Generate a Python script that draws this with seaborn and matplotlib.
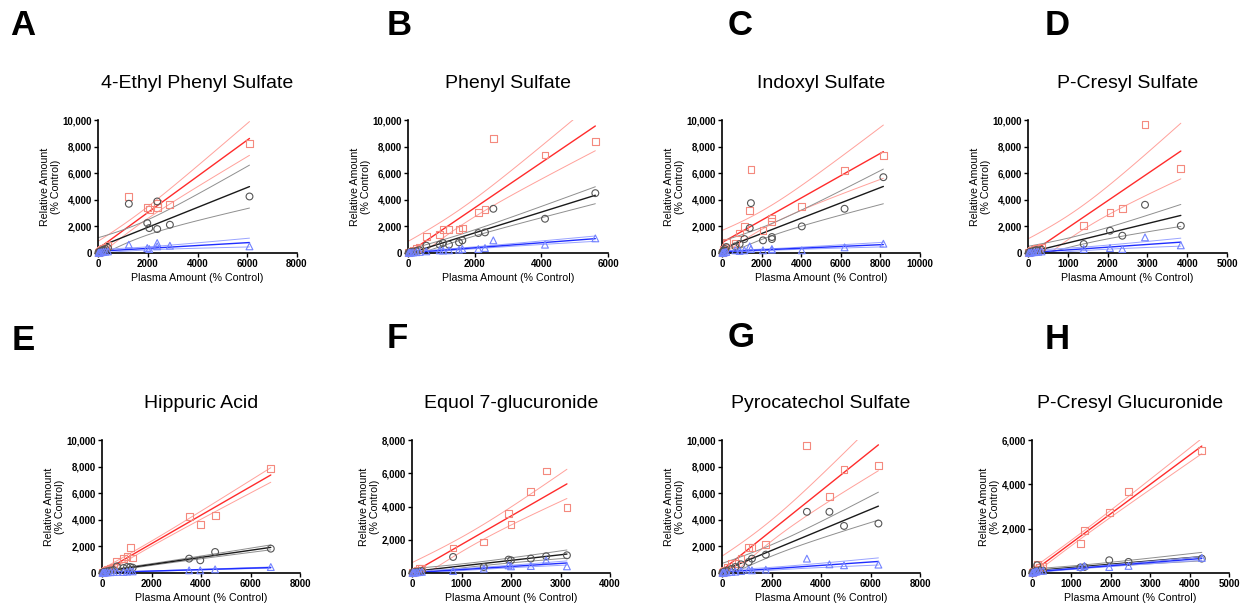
import numpy as np
import matplotlib
matplotlib.use('Agg')
import matplotlib.pyplot as plt
import seaborn as sns

# panel titles and letters
titles = ['4-Ethyl Phenyl Sulfate', 'Phenyl Sulfate', 'Indoxyl Sulfate', 'P-Cresyl Sulfate',
          'Hippuric Acid', 'Equol 7-glucuronide', 'Pyrocatechol Sulfate', 'P-Cresyl Glucuronide']
letters = ['A', 'B', 'C', 'D', 'E', 'F', 'G', 'H']

# plasma amount (x) and relative amounts for the three series (square / circle / triangle)
x_A = [20, 50, 90, 150, 220, 300, 400, 1240, 1980, 2060, 2380, 2380, 2890, 6090]
sq_A = [40, 90, 160, 250, 330, 420, 560, 4250, 3450, 3300, 3750, 3450, 3675, 8250]
ci_A = [30, 70, 120, 180, 250, 300, 380, 3700, 2250, 1875, 3875, 1800, 2125, 4250]
tri_A = [10, 20, 40, 60, 80, 100, 120, 625, 375, 300, 750, 500, 550, 500]

x_B = [20, 50, 90, 150, 250, 350, 550, 950, 1050, 1230, 1530, 1630, 2110, 2310, 2560, 4110, 5620]
sq_B = [40, 80, 150, 230, 330, 400, 1250, 1375, 1750, 1750, 1750, 1875, 3075, 3250, 8625, 7375, 8375]
ci_B = [20, 40, 70, 100, 150, 200, 550, 625, 750, 625, 800, 950, 1500, 1550, 3325, 2575, 4500]
tri_B = [10, 20, 30, 40, 60, 80, 125, 200, 180, 200, 250, 300, 300, 375, 950, 625, 1100]

x_C = [20, 50, 90, 150, 220, 670, 890, 1130, 1400, 1460, 2070, 2520, 2520, 4030, 6190, 8150]
sq_C = [60, 150, 250, 400, 800, 700, 1500, 2000, 3200, 6250, 1675, 2375, 2625, 3500, 6175, 7325]
ci_C = [40, 100, 180, 300, 450, 500, 675, 1050, 1875, 3750, 950, 1200, 1050, 2000, 3325, 5700]
tri_C = [10, 20, 40, 60, 80, 200, 150, 200, 500, 300, 200, 300, 250, 200, 425, 700]

x_D = [20, 50, 90, 150, 210, 260, 340, 1400, 2060, 2370, 2940, 3840]
sq_D = [50, 120, 200, 280, 375, 300, 450, 2075, 3050, 3325, 9675, 6325]
ci_D = [30, 60, 100, 160, 220, 180, 250, 675, 1675, 1300, 3625, 2050]
tri_D = [10, 20, 40, 60, 80, 90, 120, 300, 375, 300, 1175, 575]

x_E = [20, 50, 90, 150, 230, 340, 470, 600, 870, 1010, 1140, 1240, 3520, 3970, 4570, 6820]
sq_E = [30, 70, 120, 200, 280, 325, 450, 900, 1075, 1250, 1900, 1125, 4270, 3640, 4350, 7860]
ci_E = [20, 40, 70, 100, 130, 180, 220, 500, 375, 450, 450, 400, 1080, 955, 1580, 1830]
tri_E = [10, 20, 30, 40, 50, 60, 70, 80, 75, 100, 150, 120, 200, 200, 275, 450]

x_F = [10, 30, 60, 100, 150, 200, 830, 1450, 1950, 2000, 2400, 2710, 3130]
sq_F = [20, 60, 120, 180, 250, 300, 1500, 1870, 3580, 2915, 4885, 6130, 3920]
ci_F = [10, 30, 50, 70, 90, 110, 965, 360, 805, 765, 865, 1005, 1065]
tri_F = [5, 15, 25, 40, 55, 70, 120, 260, 460, 400, 420, 765, 400]

x_G = [20, 50, 100, 200, 380, 540, 770, 1080, 1210, 1770, 3430, 4340, 4930, 6320]
sq_G = [40, 100, 200, 450, 700, 700, 1080, 1910, 1910, 2135, 9570, 5730, 7810, 8065]
ci_G = [20, 50, 100, 180, 300, 450, 650, 830, 1080, 1380, 4600, 4600, 3540, 3720]
tri_G = [10, 20, 30, 50, 80, 100, 150, 250, 200, 250, 1080, 650, 580, 630]

x_H = [10, 30, 60, 100, 130, 200, 280, 1230, 1330, 1960, 2450, 4310]
sq_H = [20, 50, 90, 150, 390, 250, 300, 1330, 1900, 2730, 3665, 5520]
ci_H = [15, 30, 50, 80, 350, 120, 100, 250, 270, 575, 500, 650]
tri_H = [10, 20, 40, 60, 80, 90, 100, 270, 320, 270, 320, 680]

panels = [(x_A, sq_A, ci_A, tri_A), (x_B, sq_B, ci_B, tri_B), (x_C, sq_C, ci_C, tri_C),
          (x_D, sq_D, ci_D, tri_D), (x_E, sq_E, ci_E, tri_E), (x_F, sq_F, ci_F, tri_F),
          (x_G, sq_G, ci_G, tri_G), (x_H, sq_H, ci_H, tri_H)]

xmax = [8000, 6000, 10000, 5000, 8000, 4000, 8000, 5000]
xstep = [2000, 2000, 2000, 1000, 2000, 1000, 2000, 1000]
ymax = [10000, 10000, 10000, 10000, 10000, 8000, 10000, 6000]

# axes boxes in pixels: left, right, top, bottom
boxes = [(98, 297, 120, 253), (408, 608, 120, 253), (722, 920, 120, 253), (1028, 1227, 120, 253),
         (102, 300, 440, 573), (412, 610, 440, 573), (722, 920, 440, 573), (1032, 1229, 440, 573)]
letter_pos = [(10, 35), (387, 35), (728, 35), (1045, 35), (12, 350), (387, 348), (728, 347), (1045, 349)]

# marker, marker edge, fit line, band line
styles = [('s', '#f4897e', '#ff2b2b', '#ffa19b'),
          ('o', '#555555', '#1a1a1a', '#8f8f8f'),
          ('^', '#7282ff', '#1f2dff', '#9aa4ff')]


def fit_lines(x, y):
    x = np.asarray(x, float)
    y = np.asarray(y, float)
    n = len(x)
    b1, b0 = np.polyfit(x, y, 1)
    xs = np.linspace(x.min(), x.max(), 100)
    yh = b0 + b1 * xs
    s = np.sqrt(np.sum((y - (b0 + b1 * x)) ** 2) / (n - 2))
    sxx = np.sum((x - x.mean()) ** 2)
    t = 1.96 + 2.5 / (n - 2)
    half = t * s * np.sqrt(1 / n + (xs - x.mean()) ** 2 / sxx)
    return xs, yh, yh - half, yh + half


sns.set_style('ticks')
plt.rcParams['font.family'] = ['Liberation Sans', 'DejaVu Sans']
plt.rcParams['text.color'] = 'black'
plt.rcParams['axes.labelcolor'] = 'black'
plt.rcParams['xtick.color'] = 'black'
plt.rcParams['ytick.color'] = 'black'

W, H = 1246, 614
fig = plt.figure(figsize=(W / 100, H / 100), dpi=100)

for i, (x, *ys) in enumerate(panels):
    l, r, t, b = boxes[i]
    ax = fig.add_axes([l / W, 1 - b / H, (r - l) / W, (b - t) / H])
    for y, (mk, mc, lc, bc) in zip(ys, styles):
        xs, yh, lo, hi = fit_lines(x, y)
        ax.plot(xs, lo, color=bc, lw=0.7)
        ax.plot(xs, hi, color=bc, lw=0.7)
        ax.plot(xs, yh, color=lc, lw=1.0)
        sns.scatterplot(x=x, y=y, marker=mk, s=24, color=mc, facecolor='none',
                        edgecolor=mc, linewidth=0.8, ax=ax, clip_on=False, zorder=3)
    ax.set_xlim(0, xmax[i])
    ax.set_ylim(0, ymax[i])
    xt = list(range(0, xmax[i] + 1, xstep[i]))
    yt = list(range(0, ymax[i] + 1, 2000))
    ax.set_xticks(xt, labels=[str(v) for v in xt], fontweight='bold')
    ax.set_yticks(yt, labels=[f'{v:,}' for v in yt], fontweight='bold')
    ax.tick_params(labelsize=7, width=1, length=3, pad=1.5)
    sns.despine(ax=ax)
    for sp in ('left', 'bottom'):
        ax.spines[sp].set_linewidth(1.2)
        ax.spines[sp].set_color('black')
    ax.set_xlabel('Plasma Amount (% Control)', fontsize=7.7, labelpad=3)
    ax.set_ylabel('Relative Amount\n(% Control)', fontsize=7.7, labelpad=1, linespacing=1.1)
    ax.set_title(titles[i], fontsize=14, pad=23, color='black')
    lx, ly = letter_pos[i]
    fig.text(lx / W, 1 - ly / H, letters[i], fontsize=25, fontweight='bold',
             va='baseline', color='black')

fig.savefig('out.png', dpi=100)
